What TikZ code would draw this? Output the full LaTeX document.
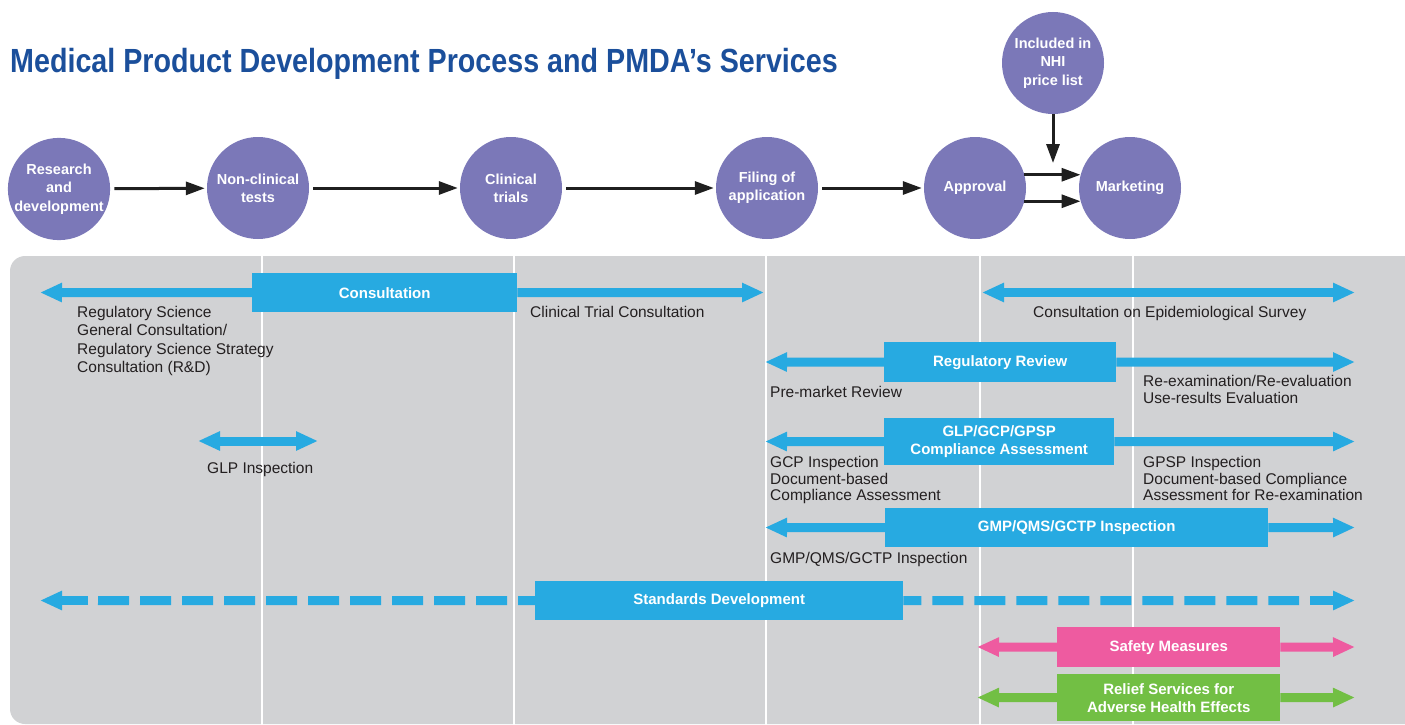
\documentclass[tikz,border=0pt]{standalone}
\usepackage{graphicx}
\usepackage{fontspec}
\setmainfont{Liberation Sans}
\usetikzlibrary{arrows.meta}
\definecolor{ttl}{HTML}{1B4F9B}
\definecolor{purp}{HTML}{7B78B8}
\definecolor{pblue}{HTML}{27AAE1}
\definecolor{panel}{HTML}{D1D2D4}
\definecolor{pinkm}{HTML}{EE5BA0}
\definecolor{grn}{HTML}{72BF44}
\definecolor{txt}{HTML}{231F20}
\begin{document}
\begin{tikzpicture}[x=1pt,y=-1pt,
  stage/.style={circle,fill=purp,minimum size=102pt,inner sep=0pt,text=white,
    font=\bfseries\fontsize{14.5}{18.3}\selectfont,align=center},
  flow/.style={line width=3pt,draw=black!88,>={Triangle[length=19pt,width=13pt]},->},
  svcbox/.style={anchor=north west,inner sep=0pt,text=white,align=center,
    font=\bfseries\fontsize{15}{18}\selectfont},
  band/.style={line width=9pt,>={Triangle[length=22pt,width=18pt]}},
  lbl/.style={anchor=north west,inner sep=0pt,text=txt,align=left,
    font=\fontsize{15.5}{16.7}\selectfont},
  divider/.style={draw=white,line width=2pt}
]
\path[use as bounding box] (0,0) rectangle (1405,725);
\clip (0,0) rectangle (1405,725);

% title
\node[anchor=base west,inner sep=0pt,text=ttl,font=\bfseries\fontsize{33.5}{36}\selectfont]
  (title) at (10,73) {\scalebox{0.856}[1]{Medical Product Development Process and PMDA’s Services}};

% stages
\node[stage] (rd)  at (59,189)  {Research\\and\\development};
\node[stage] (nc)  at (258,188) {Non-clinical\\tests};
\node[stage] (ct)  at (511,188) {Clinical\\trials};
\node[stage] (fa)  at (767,188) {Filing of\\application};
\node[stage] (ap)  at (975,188) {Approval};
\node[stage] (mk)  at (1130,188) {Marketing};
\node[stage] (nhi) at (1053,63) {Included in\\NHI\\price list};
\coordinate (nhiend) at (1053,163);

\draw[flow,shorten <=4pt,shorten >=2pt] (rd) -- (nc);
\draw[flow,shorten <=4pt,shorten >=2pt] (nc) -- (ct);
\draw[flow,shorten <=4pt,shorten >=2pt] (ct) -- (fa);
\draw[flow,shorten <=4pt,shorten >=2pt] (fa) -- (ap);
\draw[flow] (ap.15) -- (mk.165);
\draw[flow] (ap.-15) -- (mk.-165);
\draw[flow] (nhi.south) -- (nhiend);

% panel
\fill[panel,rounded corners=15pt] (10,256) rectangle (1440,724);
\foreach \xx in {262,514,766,980,1133}
  \draw[divider] (\xx,256) -- (\xx,725);

% boxes
\node[svcbox,fill=pblue,minimum width=265pt,minimum height=39pt] (cons) at (252,273) {Consultation};
\node[svcbox,fill=pblue,minimum width=232pt,minimum height=40pt] (rev) at (884,342) {Regulatory Review};
\node[svcbox,fill=pblue,minimum width=230pt,minimum height=47pt] (comp) at (884,418) {GLP/GCP/GPSP\\Compliance Assessment};
\node[svcbox,fill=pblue,minimum width=383pt,minimum height=39pt] (gmp) at (885,508) {GMP/QMS/GCTP Inspection};
\node[svcbox,fill=pblue,minimum width=368pt,minimum height=39pt] (std) at (535,581) {Standards Development};
\node[svcbox,fill=pinkm,minimum width=223pt,minimum height=40pt] (safe) at (1057,627) {Safety Measures};
\node[svcbox,fill=grn,minimum width=223pt,minimum height=47pt] (rel) at (1057,674) {Relief Services for\\Adverse Health Effects};

% arrow end points
\coordinate (consL) at (40,292.5);
\coordinate (consR) at (764,292.5);
\coordinate (epiL) at (982,292.5);
\coordinate (epiR) at (1355,292.5);
\coordinate (revL) at (765,362);
\coordinate (revR) at (1355,362);
\coordinate (glpL) at (198,441);
\coordinate (glpR) at (318,441);
\coordinate (compL) at (765,441.5);
\coordinate (compR) at (1355,441.5);
\coordinate (gmpL) at (765,527.5);
\coordinate (gmpR) at (1355,527.5);
\coordinate (stdL) at (40,600.5);
\coordinate (stdLa) at (88,600.5);
\coordinate (stdLb) at (98,600.5);
\coordinate (stdRa) at (1299,600.5);
\coordinate (stdRb) at (1310,600.5);
\coordinate (stdR) at (1355,600.5);
\coordinate (safeL) at (977,647);
\coordinate (safeR) at (1355,647);
\coordinate (relL) at (977,697.5);
\coordinate (relR) at (1355,697.5);

\draw[band,pblue,->] (cons.west) -- (consL);
\draw[band,pblue,->] (cons.east) -- (consR);
\draw[band,pblue,<->] (epiL) -- (epiR);
\draw[band,pblue,->] (rev.west) -- (revL);
\draw[band,pblue,->] (rev.east) -- (revR);
\draw[band,pblue,<->] (glpL) -- (glpR);
\draw[band,pblue,->] (comp.west) -- (compL);
\draw[band,pblue,->] (comp.east) -- (compR);
\draw[band,pblue,->] (gmp.west) -- (gmpL);
\draw[band,pblue,->] (gmp.east) -- (gmpR);
\draw[band,pblue,->] (stdLa) -- (stdL);
\draw[band,pblue,dash pattern=on 31pt off 11pt] (stdLb) -- (std.west);
\draw[band,pblue,dash pattern=on 31pt off 11pt,dash phase=13pt] (std.east) -- (stdRa);
\draw[band,pblue,->] (stdRb) -- (stdR);
\draw[band,pinkm,->] (safe.west) -- (safeL);
\draw[band,pinkm,->] (safe.east) -- (safeR);
\draw[band,grn,->] (rel.west) -- (relL);
\draw[band,grn,->] (rel.east) -- (relR);

% labels
\node[lbl,font=\fontsize{15.5}{18.3}\selectfont] (rsgc) at (77,306) {Regulatory Science\\General Consultation/\\Regulatory Science Strategy\\Consultation (R\&D)};
\node[lbl] (ctc) at (530,306) {Clinical Trial Consultation};
\node[lbl] (epi) at (1033,306) {Consultation on Epidemiological Survey};
\node[lbl] (pmr) at (770,386) {Pre-market Review};
\node[lbl] (reex) at (1143,375) {Re-examination/Re-evaluation\\Use-results Evaluation};
\node[lbl] (glpi) at (207,462) {GLP Inspection};
\node[lbl] (gcp) at (770,456) {GCP Inspection\\Document-based\\Compliance Assessment};
\node[lbl] (gpsp) at (1143,456) {GPSP Inspection\\Document-based Compliance\\Assessment for Re-examination};
\node[lbl] (gmpi) at (770,552) {GMP/QMS/GCTP Inspection};
\end{tikzpicture}
\end{document}
